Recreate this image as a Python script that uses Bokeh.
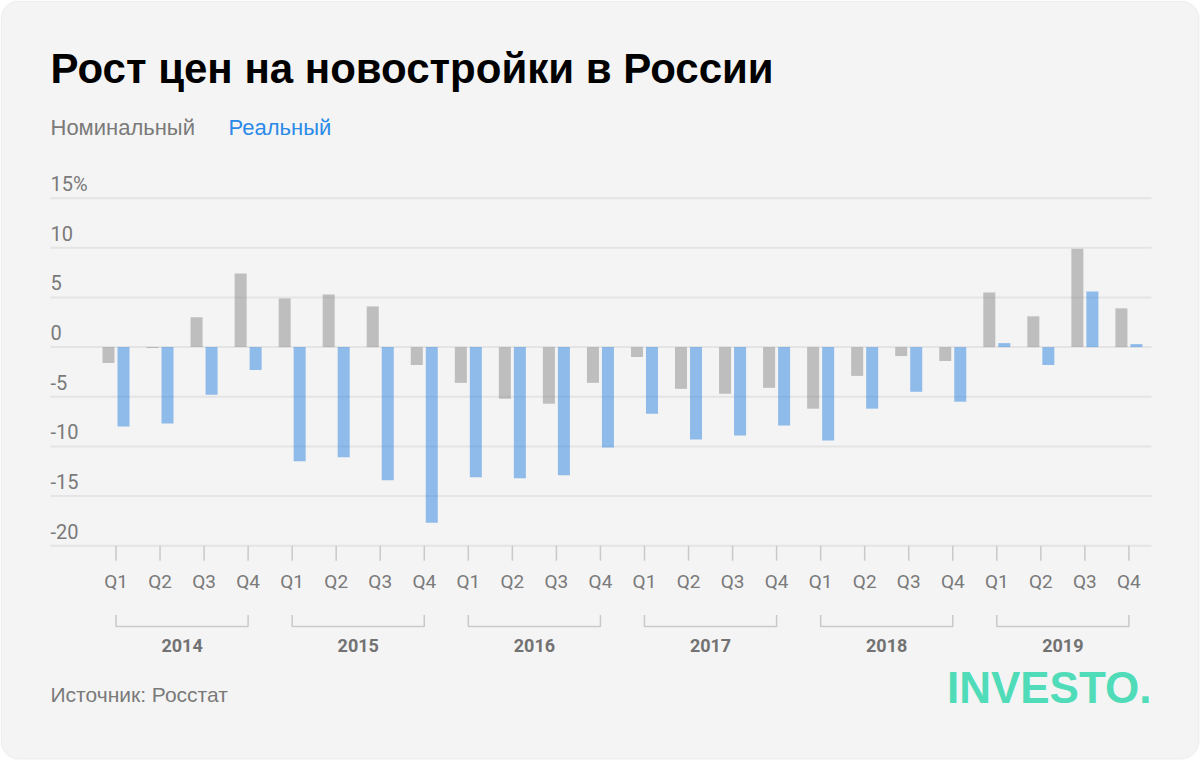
import math
from bokeh.plotting import figure
from bokeh.models import Range1d, BoxAnnotation, ColumnDataSource
from bokeh.transform import dodge
from bokeh.core.properties import value
from bokeh.embed import file_html
from bokeh.resources import INLINE

# ---------------- data ----------------
title_text = "Рост цен на новостройки в России"
series_names = ["Номинальный", "Реальный"]
years = ["2014", "2015", "2016", "2017", "2018", "2019"]
quarters = ["Q1", "Q2", "Q3", "Q4"]
nominal = [-1.6, -0.1, 3.0, 7.4,
           4.9, 5.3, 4.1, -1.8,
           -3.6, -5.2, -5.7, -3.6,
           -1.0, -4.2, -4.7, -4.1,
           -6.2, -2.9, -0.9, -1.4,
           5.5, 3.1, 9.9, 3.9]
real = [-8.0, -7.7, -4.8, -2.3,
        -11.5, -11.1, -13.4, -17.7,
        -13.1, -13.2, -12.9, -10.1,
        -6.7, -9.3, -8.9, -7.9,
        -9.4, -6.2, -4.5, -5.5,
        0.4, -1.8, 5.6, 0.3]
y_ticks = [-20, -15, -10, -5, 0, 5, 10, 15]
y_tick_labels = ["-20", "-15", "-10", "-5", "0", "5", "10", "15%"]
source_note = "Источник: Росстат"
brand = "INVESTO."

# ---------------- layout (pixels of the 1200x760 card) ----------------
W, H = 1200, 760
PX_X = 44.04                 # px per category
X0_PX = 115.5                # px of category 0
PX_Y = 9.93                  # px per percent
Y0_PX = 346.6                # px of value 0


def dx(px):
    return (px - X0_PX) / PX_X


def dy(py):
    return (Y0_PX - py) / PX_Y


x_range = Range1d((0 - X0_PX) / PX_X, (W - X0_PX) / PX_X)
y_range = Range1d((Y0_PX - H) / PX_Y, Y0_PX / PX_Y)

p = figure(width=W, height=H, x_range=x_range, y_range=y_range,
           x_axis_type=None, y_axis_type=None, toolbar_location=None,
           output_backend="svg", min_border=0, outline_line_color=None,
           background_fill_color="white", border_fill_color="white")
p.title.visible = False

# card
card = BoxAnnotation(left=dx(0.5), right=dx(W - 1.5),
                     top=dy(0.5), bottom=dy(H - 1.5),
                     fill_color="#f4f4f4", fill_alpha=1.0,
                     line_color="#d0d0d0", line_width=1, border_radius=18,
                     level="image")
p.add_layout(card)

n = len(nominal)
idx = list(range(n))
qlabels = [quarters[i % 4] for i in idx]
src = ColumnDataSource(dict(idx=idx, nominal=nominal, real=real, q=qlabels))

GX0, GX1 = dx(50), dx(1151)
AX_Y = y_ticks[0]

# grid lines
p.segment(x0=[GX0] * len(y_ticks), x1=[GX1] * len(y_ticks), y0=y_ticks, y1=y_ticks,
          line_color="#e4e4e4", line_width=2)

# bars
BAR_W = 12 / PX_X
BAR_OFF = 7.5 / PX_X
p.vbar(x=dodge("idx", -BAR_OFF, range=p.x_range), top="nominal", bottom=0,
       width=BAR_W, source=src, fill_color="#888888", fill_alpha=0.5, line_color=None)
p.vbar(x=dodge("idx", BAR_OFF, range=p.x_range), top="real", bottom=0,
       width=BAR_W, source=src, fill_color="#2f86e0", fill_alpha=0.52, line_color=None)

# y labels
p.text(x=[GX0] * len(y_ticks), y=y_ticks, text=y_tick_labels,
       text_align="left", text_baseline="middle", y_offset=-14.5,
       text_font=value("Roboto"), text_font_size="20px", text_color="#7a7a7a")

# x ticks
p.ray(x=idx, y=[AX_Y] * n, length=15, length_units="screen", angle=-math.pi / 2,
      line_color="#c9c9c9", line_width=1.5)

# quarter labels
p.text(x="idx", y=AX_Y, text="q", source=src, text_align="center",
       text_baseline="middle", y_offset=36,
       text_font=value("Roboto"), text_font_size="19px", text_color="#7a7a7a")

# year brackets + labels
bx, by, yx = [], [], []
for k in range(len(years)):
    i0, i1 = 4 * k, 4 * k + 3
    bx.append([i0, i0, i1, i1])
    by.append([dy(614.5), dy(626), dy(626), dy(614.5)])
    yx.append((i0 + i1) / 2)
p.multi_line(xs=bx, ys=by, line_color="#c9c9c9", line_width=1.5)
p.text(x=yx, y=[dy(645)] * len(years), text=years, text_align="center",
       text_baseline="middle", text_font=value("Roboto"), text_font_style="bold",
       text_font_size="18px", text_color="#727272")

# title
p.text(x=[dx(50)], y=[dy(67.5)], text=[title_text], text_baseline="middle",
       text_font=value("Liberation Sans"), text_font_style="bold",
       text_font_size="42px", text_color="#000000")

# legend
p.text(x=[dx(50)], y=[dy(126.5)], text=[series_names[0]], text_baseline="middle",
       text_font=value("Liberation Sans"), text_font_size="22px", text_color="#7a7a7a")
p.text(x=[dx(228)], y=[dy(126.5)], text=[series_names[1]], text_baseline="middle",
       text_font=value("Liberation Sans"), text_font_size="22px", text_color="#2b8ae8")

# source
p.text(x=[dx(50)], y=[dy(694)], text=[source_note], text_baseline="middle",
       text_font=value("Liberation Sans"), text_font_size="21px", text_color="#7a7a7a")

# brand
p.text(x=[dx(1151)], y=[dy(686.5)], text=[brand], text_align="right",
       text_baseline="middle",
       text_font=value("Liberation Sans"), text_font_style="bold",
       text_font_size="44px", text_color="#50dcb8")

open("out.html", "w").write(file_html(p, INLINE))
